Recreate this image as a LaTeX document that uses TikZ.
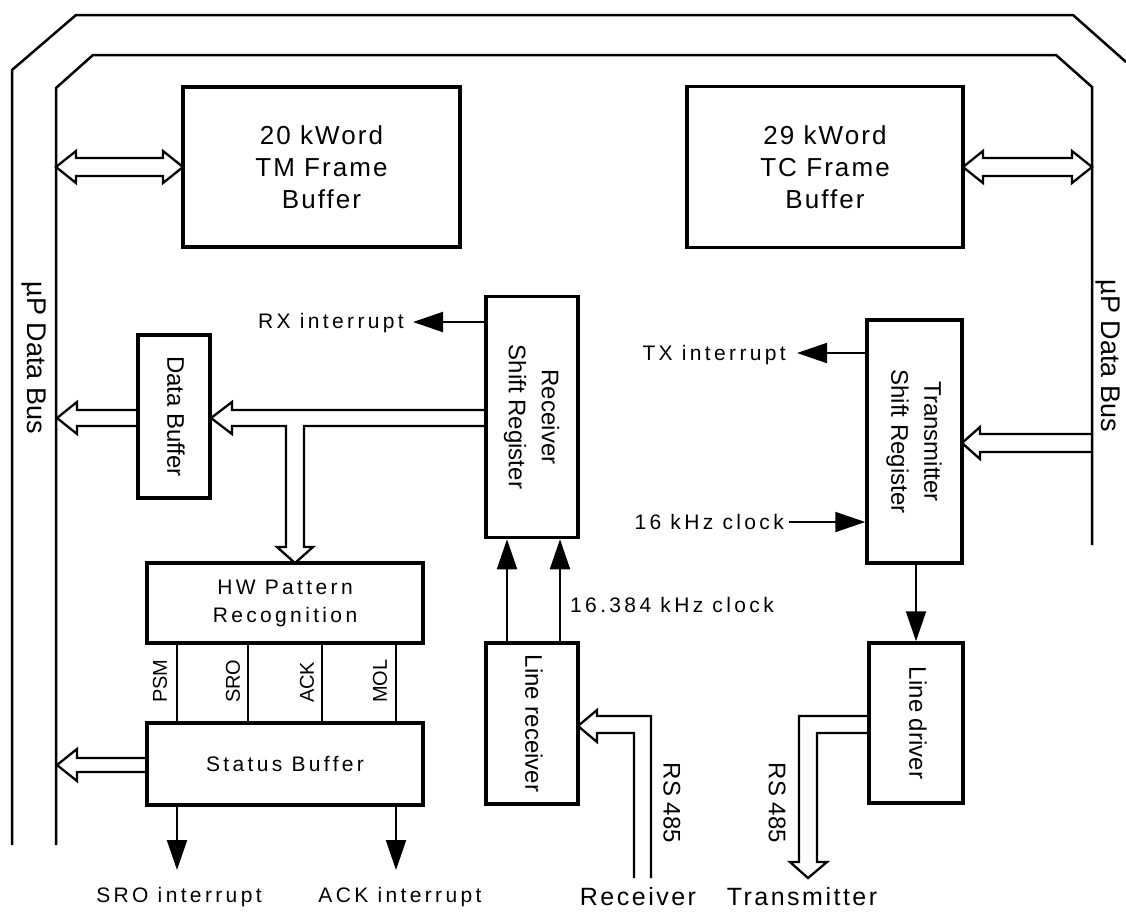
\documentclass[tikz,border=0pt]{standalone}
\usepackage{fontspec}
\usepackage{graphicx}
\setmainfont{Liberation Sans}
\newfontfamily\lsA{Liberation Sans}[LetterSpace=16]
\newfontfamily\lsB{Liberation Sans}[LetterSpace=8]
\newfontfamily\lsC{Liberation Sans}[LetterSpace=10]
\usetikzlibrary{arrows.meta,calc}
\newcommand{\rtxt}[1]{\rotatebox{-90}{\begin{tabular}{@{}c@{}}#1\end{tabular}}}
\begin{document}
\begin{tikzpicture}[x=1pt,y=-1pt,
  box/.style={draw, line width=3.5pt, inner sep=0pt, align=center, anchor=center},
  bigtxt/.style={font=\fontsize{26}{32}\selectfont\lsB},
  midtxt/.style={font=\fontsize{21}{28}\selectfont\lsA},
  rottxt/.style={font=\fontsize{24}{33}\selectfont},
  lbl/.style={font=\fontsize{21}{24}\selectfont\lsA, inner sep=0pt},
  biglbl/.style={font=\fontsize{25}{28}\selectfont\lsC, inner sep=0pt},
  buslbl/.style={font=\fontsize{27}{30}\selectfont, inner sep=0pt, rotate=-90},
  siglbl/.style={font=\fontsize{20}{22}\selectfont, inner sep=0pt, rotate=90, anchor=west},
  rslbl/.style={font=\fontsize{24}{26}\selectfont, inner sep=0pt, rotate=-90},
  bus/.style={line width=2.5pt, line join=miter},
  hol/.style={line width=2.3pt, line join=miter},
  thin/.style={line width=2pt},
  arr/.style={line width=2pt, -{Triangle[length=30pt,width=20pt]}}
]
\useasboundingbox (0,0) rectangle (1126,911);

% data buses
\draw[bus] (12,845) -- (12,70) -- (76,15) -- (1073,15) -- (1126,62);
\draw[bus] (56,845) -- (56,88) -- (93,55) -- (1056,55) -- (1092,87) -- (1092,545);
\node[buslbl] (busl) at (34,358) {µP Data Bus};
\node[buslbl] (busr) at (1108,356) {µP Data Bus};

% boxes
\node[box, bigtxt, minimum width=277pt, minimum height=160pt] (tm) at (321.5,167) {20 kWord\\TM Frame\\Buffer};
\node[box, bigtxt, minimum width=276pt, minimum height=161pt] (tc) at (825,167) {29 kWord\\TC Frame\\Buffer};
\node[box, rottxt, minimum width=92pt, minimum height=241pt] (rsr) at (532,417) {\rtxt{Receiver\\Shift Register}};
\node[box, rottxt, minimum width=72pt, minimum height=163pt] (db) at (174,416.5) {\rtxt{Data Buffer}};
\node[box, midtxt, minimum width=276pt, minimum height=80pt] (hw) at (285,603) {HW Pattern\\Recognition};
\node[box, midtxt, minimum width=276pt, minimum height=82pt] (sb) at (285,764) {Status Buffer};
\node[box, rottxt, minimum width=92pt, minimum height=161pt] (lr) at (532,723.5) {\rtxt{Line receiver}};
\node[box, rottxt, minimum width=95pt, minimum height=243pt] (tsr) at (914.5,441.5) {\rtxt{Transmitter\\Shift Register}};
\node[box, rottxt, minimum width=94pt, minimum height=160pt] (ld) at (916,723) {\rtxt{Line driver}};

% hollow bus arrows
\draw[hol] (56,167) -- (76,151) -- (76,158) -- (163,158) -- (163,151) -- (183,167) -- (163,183) -- (163,176) -- (76,176) -- (76,183) -- cycle;
\draw[hol] (963,167) -- (983,151) -- (983,158) -- (1072,158) -- (1072,151) -- (1092,167) -- (1072,183) -- (1072,176) -- (983,176) -- (983,183) -- cycle;
\draw[hol] (138,410) -- (77,410) -- (77,402) -- (57,418) -- (77,434) -- (77,426) -- (138,426);
\draw[hol] (486,410) -- (232,410) -- (232,402) -- (211,418) -- (232,434) -- (232,426) -- (286,426) -- (286,547) -- (277,547) -- (295,563) -- (313,547) -- (304,547) -- (304,426) -- (486,426);
\draw[hol] (147,758) -- (77,758) -- (77,749) -- (57,765) -- (77,781) -- (77,772) -- (147,772);
\draw[hol] (1092,434) -- (980,434) -- (980,427) -- (962,443) -- (980,459) -- (980,452) -- (1092,452);
\draw[hol] (651,878) -- (651,716) -- (597,716) -- (597,710) -- (578,726) -- (597,742) -- (597,733) -- (634,733) -- (634,878);
\draw[hol] (869,716) -- (799,716) -- (799,862) -- (790,862) -- (808,878) -- (827,862) -- (817,862) -- (817,733) -- (869,733);
\node[rslbl] (rs1) at (672,803) {RS 485};
\node[rslbl] (rs2) at (777,803) {RS 485};
\node[biglbl, anchor=base] (recv) at (638,905) {Receiver};
\node[biglbl, anchor=base] (trans) at (802,905) {Transmitter};

% signal arrows
\node[lbl, anchor=base east] (rxl) at (404,328) {RX interrupt};
\draw[arr] (rsr.west |- 0,322) -- (413,322);
\node[lbl, anchor=base east] (txl) at (786,360) {TX interrupt};
\draw[arr] (tsr.west |- 0,353) -- (797,353);
\node[lbl, anchor=base east] (ckl) at (784,529) {16 kHz clock};
\draw[arr] (789,522) -- (tsr.west |- 0,522);
\draw[arr] (lr.north -| 507,0) -- (rsr.south -| 507,0);
\draw[arr] (lr.north -| 560,0) -- (rsr.south -| 560,0);
\node[lbl, anchor=base west] (ck2) at (570,612) {16.384 kHz clock};
\draw[arr] (ld.north |- tsr.south) -- (ld.north);

% pattern signals
\draw[thin] (hw.south -| 177,0) -- (sb.north -| 177,0);
\draw[thin] (hw.south -| 248,0) -- (sb.north -| 248,0);
\draw[thin] (hw.south -| 322,0) -- (sb.north -| 322,0);
\draw[thin] (hw.south -| 396,0) -- (sb.north -| 396,0);
\node[siglbl] (psm) at (160,703) {PSM};
\node[siglbl] (sro) at (233,703) {SRO};
\node[siglbl] (ack) at (307,703) {ACK};
\node[siglbl] (mol) at (380,703) {MOL};

% interrupts
\coordinate (sroend) at (177,870);
\coordinate (ackend) at (396,870);
\draw[arr] (sb.south -| sroend) -- (sroend);
\draw[arr] (sb.south -| ackend) -- (ackend);
\node[lbl, anchor=base] (sroi) at (179,902) {SRO interrupt};
\node[lbl, anchor=base] (acki) at (400,902) {ACK interrupt};
\end{tikzpicture}
\end{document}
